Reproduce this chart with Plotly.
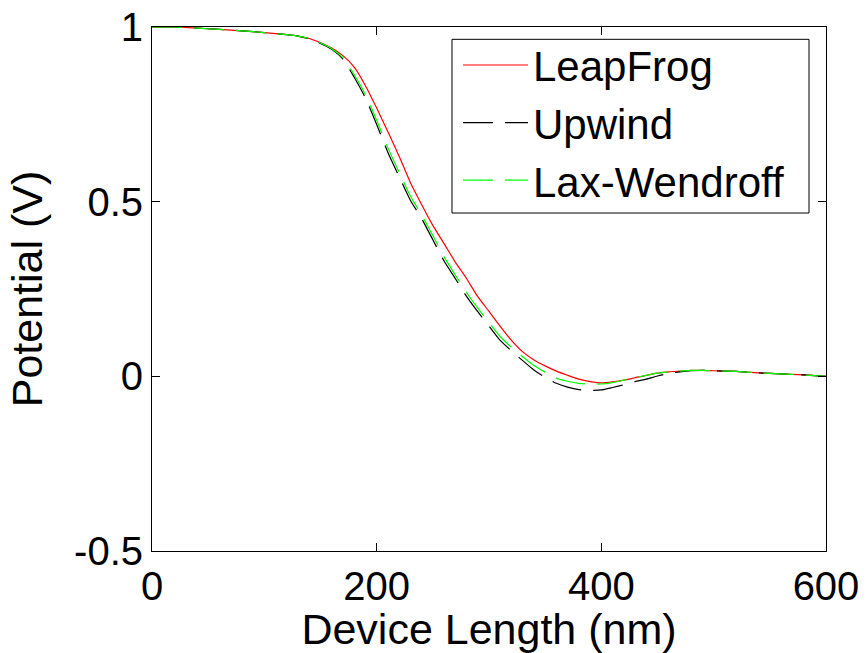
import plotly.graph_objects as go

# Device position grid (nm)
x_nm = [0, 20, 40, 60, 80, 100, 120, 130, 140, 150, 160, 170, 180, 190, 200,
        210, 220, 230, 240, 250, 260, 270, 280, 290, 300, 310, 320, 330, 340,
        350, 360, 370, 380, 390, 400, 410, 420, 430, 440, 450, 460, 470, 480,
        490, 500, 520, 540, 560, 580, 600]

# Potential profiles (V) for each scheme
leapfrog = [1.0, 1.0, 0.997, 0.993, 0.989, 0.984, 0.978, 0.974, 0.967, 0.955,
            0.940, 0.918, 0.885, 0.832, 0.768, 0.700, 0.630, 0.555, 0.492,
            0.432, 0.380, 0.327, 0.280, 0.228, 0.186, 0.143, 0.103, 0.070,
            0.047, 0.030, 0.015, 0.003, -0.008, -0.015, -0.019, -0.016,
            -0.011, -0.004, 0.003, 0.009, 0.013, 0.015, 0.017, 0.017, 0.016,
            0.014, 0.010, 0.007, 0.004, 0.0]

upwind = [1.0, 1.0, 0.997, 0.993, 0.989, 0.984, 0.978, 0.974, 0.966, 0.953,
          0.936, 0.908, 0.856, 0.797, 0.721, 0.641, 0.572, 0.504, 0.452,
          0.391, 0.330, 0.280, 0.229, 0.185, 0.144, 0.103, 0.073, 0.045,
          0.018, -0.003, -0.020, -0.031, -0.038, -0.040, -0.039, -0.032,
          -0.024, -0.015, -0.008, 0.001, 0.008, 0.013, 0.016, 0.017, 0.016,
          0.014, 0.010, 0.007, 0.004, 0.0]

lax_wendroff = [1.0, 1.0, 0.997, 0.993, 0.989, 0.984, 0.978, 0.974, 0.967,
                0.954, 0.938, 0.912, 0.864, 0.806, 0.733, 0.654, 0.584, 0.516,
                0.462, 0.403, 0.342, 0.290, 0.240, 0.195, 0.154, 0.114, 0.083,
                0.056, 0.031, 0.012, -0.005, -0.014, -0.020, -0.022, -0.022,
                -0.018, -0.011, -0.004, 0.003, 0.009, 0.013, 0.015, 0.017,
                0.017, 0.016, 0.014, 0.010, 0.007, 0.004, 0.0]

x_ticks = [0, 200, 400, 600]
y_ticks = [-0.5, 0, 0.5, 1]
y_tick_text = ["-0.5", "0", "0.5", "1"]

FONT = "Liberation Sans, Arial, sans-serif"

fig = go.Figure()
fig.add_trace(go.Scatter(x=x_nm, y=leapfrog, mode="lines", name="LeapFrog",
                         line=dict(color="#ff0000", width=1.2,
                                   shape="spline", smoothing=0.6)))
fig.add_trace(go.Scatter(x=x_nm, y=upwind, mode="lines", name="Upwind",
                         line=dict(color="#000000", width=1.2, dash="30px,12px",
                                   shape="spline", smoothing=0.6)))
fig.add_trace(go.Scatter(x=x_nm, y=lax_wendroff, mode="lines", name="Lax-Wendroff",
                         line=dict(color="#00ff00", width=1.2, dash="30px,12px",
                                   shape="spline", smoothing=0.6)))

axis_common = dict(showgrid=False, zeroline=False, showline=True,
                   linecolor="#000000", linewidth=1, mirror="ticks",
                   ticks="inside", ticklen=8, tickcolor="#000000",
                   tickfont=dict(family=FONT, size=40, color="#000000"))

fig.update_xaxes(range=[0, 600], tickvals=x_ticks,
                 title=dict(text="Device Length (nm)", standoff=4,
                            font=dict(family=FONT, size=43, color="#000000")),
                 **axis_common)
fig.update_yaxes(range=[-0.5, 1], tickvals=y_ticks, ticktext=y_tick_text,
                 title=dict(text="Potential (V)", standoff=18,
                            font=dict(family=FONT, size=43, color="#000000")),
                 **axis_common)

# Framed legend box
fig.add_shape(type="rect", xref="paper", yref="paper",
              x0=0.4451, x1=0.9748, y0=0.645, y1=0.9765,
              line=dict(color="#000000", width=1), fillcolor="#ffffff",
              layer="below")

fig.update_layout(
    width=868, height=653,
    margin=dict(l=152, r=42, t=27, b=102, autoexpand=False),
    paper_bgcolor="#ffffff", plot_bgcolor="rgba(0,0,0,0)",
    showlegend=True,
    legend=dict(x=0.454, y=0.992, xanchor="left", yanchor="top",
                bgcolor="rgba(0,0,0,0)", borderwidth=0,
                font=dict(family=FONT, size=42, color="#000000"),
                itemwidth=65, tracegroupgap=0),
)

fig.write_html("out.html")
